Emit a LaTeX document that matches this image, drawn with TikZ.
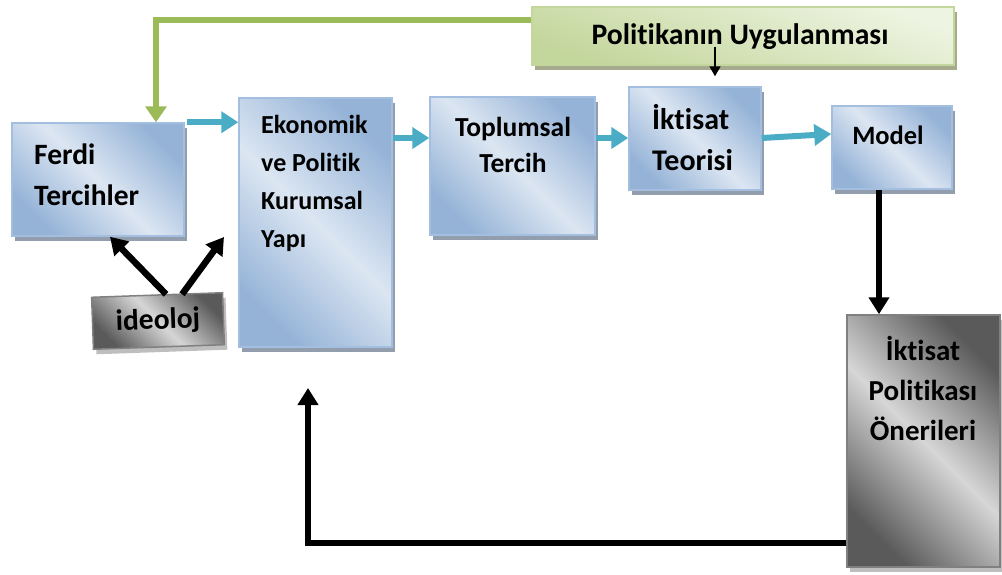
\documentclass[tikz,border=0pt]{standalone}
\usepackage{fontspec}
\setmainfont{Carlito}[Ligatures=NoCommon]
\usetikzlibrary{arrows.meta,shadows}

\definecolor{bluelight}{HTML}{DCE6F2}
\definecolor{bluedark}{HTML}{95B3D7}
\definecolor{blueline}{HTML}{A3BEDF}
\definecolor{blueshadow}{HTML}{929DAE}
\definecolor{greenlight}{HTML}{EEF4E2}
\definecolor{greendark}{HTML}{C3D69B}
\definecolor{greenshadow}{HTML}{A7AB8E}
\definecolor{greenline}{HTML}{9BBB59}
\definecolor{graylight}{HTML}{D6D6D6}
\definecolor{graydark}{HTML}{5A5A5A}
\definecolor{grayshadow}{HTML}{BEBEBE}
\definecolor{arrowcyan}{HTML}{4BACC6}

\tikzset{
  bluebox/.style={draw=blueline, line width=1.5pt, top color=bluedark, bottom color=bluedark, middle color=bluelight, shading angle=-45, drop shadow={shadow xshift=3pt, shadow yshift=-5pt, fill=blueshadow, opacity=1}, inner sep=0pt},
  greenbox/.style={draw=greendark, line width=1.5pt, top color=greenlight, bottom color=greendark, shading angle=-20, drop shadow={shadow xshift=3pt, shadow yshift=-5pt, fill=greenshadow, opacity=1}, inner sep=0pt},
  graybox/.style={draw=gray, line width=1.5pt, top color=graydark, bottom color=graydark, middle color=graylight, shading angle=-45, drop shadow={shadow xshift=3pt, shadow yshift=-5pt, fill=grayshadow, opacity=1}, inner sep=0pt},
  lbl/.style 2 args={font=\bfseries\fontsize{#1}{#2}\selectfont, inner sep=0pt},
  cyanarrow/.style={draw=arrowcyan, line width=6pt, -{Triangle[length=17pt,width=21pt]}},
  blackarrow/.style={line width=5.5pt, -{Triangle[length=17pt,width=20pt]}},
  greenarrow/.style={draw=greenline, line width=6pt, -{Triangle[length=16pt,width=21pt]}},
  smallarrow/.style={line width=1.6pt, -{Triangle[length=10pt,width=11pt]}}
}

\begin{document}
\begin{tikzpicture}[x=1pt,y=-1pt]
  \useasboundingbox (0,0) rectangle (1002,574);

  % boxes
  \node[greenbox, minimum width=422pt, minimum height=58pt] (pol) at (743,36) {};
  \node[bluebox, minimum width=172pt, minimum height=113pt] (ferdi) at (98,179.5) {};
  \node[bluebox, minimum width=153pt, minimum height=249pt] (eko) at (315.5,222.5) {};
  \node[bluebox, minimum width=165pt, minimum height=138pt] (toplum) at (512.5,166) {};
  \node[bluebox, minimum width=132pt, minimum height=103pt] (ikt) at (695,138.5) {};
  \node[bluebox, minimum width=120pt, minimum height=83pt] (model) at (892,147.5) {};
  \node[graybox, minimum width=153pt, minimum height=252pt] (oner) at (923.5,441) {};
  \node[graybox, minimum width=131pt, minimum height=52pt, rotate=2, lbl={29.5}{30}] (ideo) at (158,321) {ideoloj};

  % texts
  \node[lbl={29.7}{30}] (poltxt) at (740,37) {Politikan\i n Uygulanmas\i};
  \node[lbl={29.5}{41}, align=left, anchor=west] (ferditxt) at (34,175) {Ferdi\\Tercihler};
  \node[lbl={26}{38}, align=left, anchor=west] (ekotxt) at (261,183) {Ekonomik\\ve Politik\\Kurumsal\\Yap\i};
  \node[lbl={27.5}{36}, align=center] (toplumtxt) at (513,145) {Toplumsal\\Tercih};
  \node[lbl={30}{41}, align=left, anchor=west] (ikttxt) at (652,138) {İktisat\\Teorisi};
  \node[lbl={26.5}{30}] (modeltxt) at (888,135) {Model};
  \node[lbl={29}{40}, align=center] (onertxt) at (923,388) {İktisat\\Politikas\i\\Önerileri};

  % connectors
  \draw[greenarrow] (pol.west |- 0,20) -| (ferdi.north -| 156,0);
  \coordinate (polarr) at (715,47);
  \draw[smallarrow, shorten >=10pt] (polarr) -- (polarr |- ikt.north);

  \draw[cyanarrow] ([xshift=2pt]ferdi.north east) -- (ferdi.north east -| eko.west);
  \draw[cyanarrow] (eko.east |- 0,138) -- (toplum.west |- 0,138);
  \draw[cyanarrow] (toplum.east |- 0,138) -- (ikt.west |- 0,138);
  \draw[cyanarrow] (ikt.east |- 0,138) -- (model.west |- 0,134);

  \draw[blackarrow] (model.south -| 879,0) -- (oner.north -| 879,0);
  \coordinate (retend) at (308,388);
  \draw[blackarrow] (oner.west |- 0,543) -| (retend);

  \coordinate (ideotip) at (224,237);
  \draw[blackarrow, line width=6.5pt] ([xshift=9pt]ideo.north) -- (ferdi.south -| 110,0);
  \draw[blackarrow, line width=6.5pt] ([xshift=25pt]ideo.north) -- (ideotip);
\end{tikzpicture}
\end{document}
